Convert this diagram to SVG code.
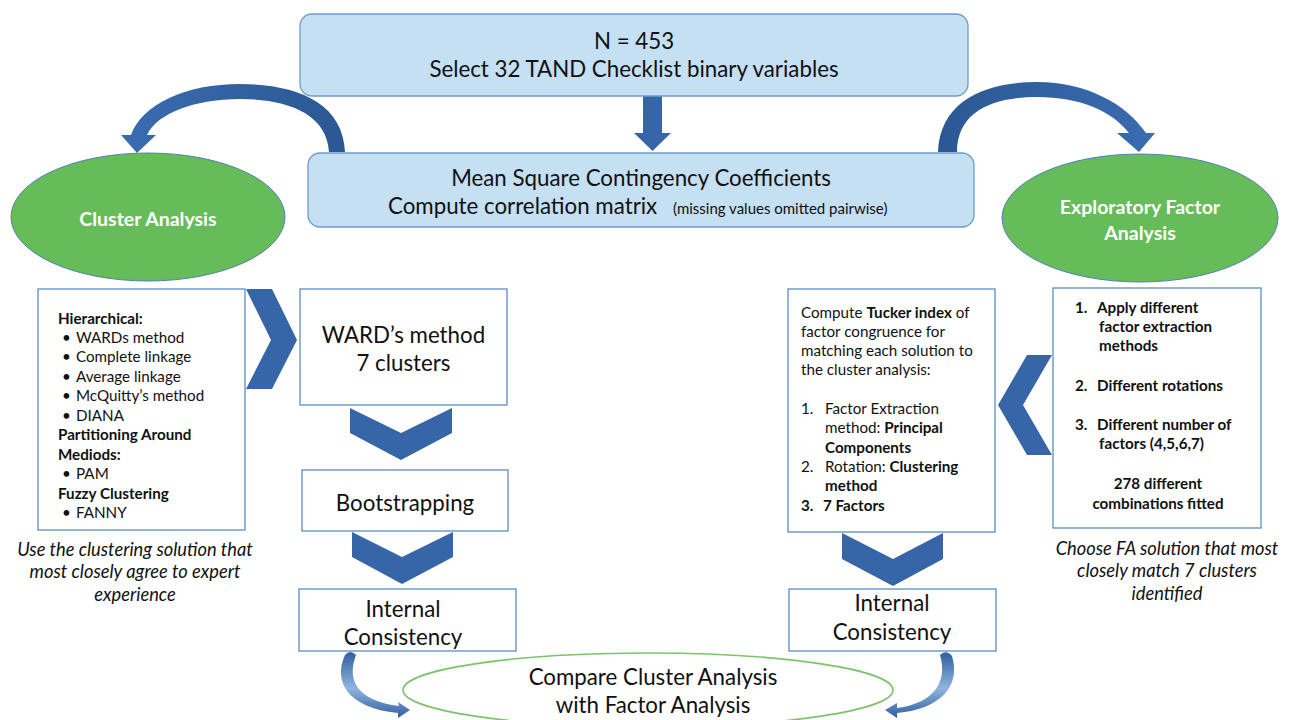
<svg xmlns="http://www.w3.org/2000/svg" width="1296" height="720" viewBox="0 0 1296 720">
  <defs>
    <linearGradient id="arcL" x1="1" y1="0" x2="0" y2="0">
      <stop offset="0" stop-color="#2b5893"/>
      <stop offset="1" stop-color="#3a6cb1"/>
    </linearGradient>
    <linearGradient id="arcR" x1="0" y1="0" x2="1" y2="0">
      <stop offset="0" stop-color="#2b5893"/>
      <stop offset="1" stop-color="#3a6cb1"/>
    </linearGradient>
    <linearGradient id="swoop" x1="0" y1="0" x2="0" y2="1">
      <stop offset="0" stop-color="#2f5f9f"/>
      <stop offset="0.55" stop-color="#8fb4dd"/>
      <stop offset="1" stop-color="#2f5f9f"/>
    </linearGradient>
  </defs>
  <style>
    text { font-family: Lato, "Liberation Sans", Arial, sans-serif; fill: #111; }
    .box { fill: #ffffff; stroke: #5b8ec6; stroke-width: 1.3; }
    .rbox { fill: #c5dff3; stroke: #6e9cca; stroke-width: 1.3; }
    .ell { fill: #66bc58; stroke: #4f81bd; stroke-width: 1; }
    .ring { fill: none; stroke: #7cc46c; stroke-width: 1.6; }
    .chev { fill: #3766a8; }
    .big { font-size: 22.3px; }
    .body { font-size: 15.2px; }
    .b { font-weight: bold; }
    .cap { font-size: 18.3px; font-style: italic; }
    .lab { font-size: 19.5px; font-weight: bold; fill: #ffffff; }
    .mid { text-anchor: middle; }
  </style>

  <rect width="1296" height="720" fill="#ffffff"/>

  <!-- connectors: arrows, curved arrows and chevrons -->
  <g id="connectors">
    <!-- straight down arrow between the two top boxes -->
    <polygon class="chev" points="643,96 662,96 662,133 671,133 652.5,151 634,133 643,133"/>
    <!-- curved arrow to Cluster Analysis -->
    <path fill="url(#arcL)" d="M345,152 C343,102 296,84 240,84 C186,84 142,104 131,135 L121,135 L137,153 L156,135 L147,135 C157,113 196,99 240,99 C284,99 327,112 329,152 Z"/>
    <!-- curved arrow to Exploratory Factor Analysis -->
    <path fill="url(#arcR)" d="M938,152 C940,100 986,82 1037,82 C1087,82 1126,104 1146,133 L1155,133 L1139,152 L1117,133 L1129,133 C1112,111 1080,97 1037,97 C992,97 957,112 957,152 Z"/>
    <!-- chevron: method list to WARD's method -->
    <polygon class="chev" points="246,289 272,289 297,340 272,389 246,389 271,340"/>
    <!-- chevrons down the cluster column -->
    <polygon class="chev" points="350,408 401,433 452,408 452,433 401,460 350,433"/>
    <polygon class="chev" points="352,532 402,557 453,532 453,557 402,584 352,557"/>
    <!-- chevron: factor options to Tucker index -->
    <polygon class="chev" points="1052,355 1027,355 998,405 1027,455 1052,455 1023,405"/>
    <!-- chevron down the factor column -->
    <polygon class="chev" points="842,533 893,559 943,533 943,559 893,586 842,559"/>
    <!-- swoops into the comparison ellipse -->
    <path fill="url(#swoop)" d="M345,655 Q350,649 356,655 C348,676 352,700 399,706 L398,702 L410,710 L398,718 L398,713 C347,708 333,681 345,655 Z"/>
    <path fill="url(#swoop)" d="M940,655 Q946,649 952,656 C961,686 941,709 897,713 L897,718 L885,710 L897,703 L897,708 C934,703 948,682 940,655 Z"/>
  </g>

  <g id="node-input">
    <rect class="rbox" x="300" y="14" width="668" height="82" rx="12"/>
    <text class="big mid" x="634" y="49">N = 453</text>
    <text class="big mid" x="634" y="77">Select 32 TAND Checklist binary variables</text>
  </g>

  <g id="node-correlation">
    <rect class="rbox" x="308" y="153" width="666" height="74" rx="12"/>
    <text class="big mid" x="641" y="186">Mean Square Contingency Coefficients</text>
    <text class="big" x="388" y="214">Compute correlation matrix</text>
    <text x="673" y="214" font-size="15">(missing values omitted pairwise)</text>
  </g>

  <g id="node-cluster-analysis">
    <ellipse class="ell" cx="148" cy="217" rx="137" ry="64"/>
    <text class="lab mid" x="148" y="226">Cluster Analysis</text>
  </g>

  <g id="node-factor-analysis">
    <ellipse class="ell" cx="1140" cy="218" rx="138" ry="64"/>
    <text class="lab mid" x="1140" y="214">Exploratory Factor</text>
    <text class="lab mid" x="1140" y="240">Analysis</text>
  </g>

  <g id="node-cluster-methods">
    <rect class="box" x="38" y="289" width="207" height="241"/>
    <g class="body">
      <text class="b" x="58" y="324">Hierarchical:</text>
      <text x="62" y="343">•</text><text x="76" y="343">WARDs method</text>
      <text x="62" y="362">•</text><text x="76" y="362">Complete linkage</text>
      <text x="62" y="382">•</text><text x="76" y="382">Average linkage</text>
      <text x="62" y="401">•</text><text x="76" y="401">McQuitty’s method</text>
      <text x="62" y="421">•</text><text x="76" y="421">DIANA</text>
      <text class="b" x="58" y="440">Partitioning Around</text>
      <text class="b" x="58" y="460">Mediods:</text>
      <text x="62" y="479">•</text><text x="76" y="479">PAM</text>
      <text class="b" x="58" y="499">Fuzzy Clustering</text>
      <text x="62" y="518">•</text><text x="76" y="518">FANNY</text>
    </g>
    <text class="cap mid" x="135" y="556">Use the clustering solution that</text>
    <text class="cap mid" x="135" y="578">most closely agree to expert</text>
    <text class="cap mid" x="135" y="601">experience</text>
  </g>

  <g id="node-ward">
    <rect class="box" x="300" y="289" width="207" height="116"/>
    <text class="big mid" x="403.5" y="343">WARD’s method</text>
    <text class="big mid" x="403.5" y="371">7 clusters</text>
  </g>

  <g id="node-bootstrapping">
    <rect class="box" x="302" y="470" width="206" height="61"/>
    <text class="big mid" x="405" y="511">Bootstrapping</text>
  </g>

  <g id="node-consistency-cluster">
    <rect class="box" x="299" y="589" width="217" height="62"/>
    <text class="big mid" x="403" y="617">Internal</text>
    <text class="big mid" x="403" y="645">Consistency</text>
  </g>

  <g id="node-tucker">
    <rect class="box" x="788" y="289" width="207" height="243"/>
    <g class="body">
      <text x="801" y="318">Compute <tspan class="b">Tucker index</tspan> of</text>
      <text x="801" y="337">factor congruence for</text>
      <text x="801" y="356">matching each solution to</text>
      <text x="801" y="375">the cluster analysis:</text>
      <text x="801" y="414">1.</text><text x="825" y="414">Factor Extraction</text>
      <text x="825" y="433">method: <tspan class="b">Principal</tspan></text>
      <text class="b" x="825" y="453">Components</text>
      <text x="801" y="472">2.</text><text x="825" y="472">Rotation: <tspan class="b">Clustering</tspan></text>
      <text class="b" x="825" y="491">method</text>
      <text class="b" x="801" y="511">3.</text><text class="b" x="823" y="511">7 Factors</text>
    </g>
  </g>

  <g id="node-factor-options">
    <rect class="box" x="1053" y="288" width="208" height="240"/>
    <g class="body b">
      <text x="1075" y="313">1.</text><text x="1097" y="313">Apply different</text>
      <text x="1099" y="332">factor extraction</text>
      <text x="1099" y="351">methods</text>
      <text x="1075" y="391">2.</text><text x="1097" y="391">Different rotations</text>
      <text x="1075" y="430">3.</text><text x="1097" y="430">Different number of</text>
      <text x="1099" y="449">factors (4,5,6,7)</text>
      <text class="mid" x="1158" y="489">278 different</text>
      <text class="mid" x="1158" y="509">combinations fitted</text>
    </g>
    <text class="cap mid" x="1167" y="555">Choose FA solution that most</text>
    <text class="cap mid" x="1167" y="577">closely match 7 clusters</text>
    <text class="cap mid" x="1167" y="600">identified</text>
  </g>

  <g id="node-consistency-factor">
    <rect class="box" x="789" y="589" width="207" height="62"/>
    <text class="big mid" x="892" y="611">Internal</text>
    <text class="big mid" x="892" y="640">Consistency</text>
  </g>

  <g id="node-compare">
    <ellipse class="ring" cx="648" cy="690" rx="245" ry="37"/>
    <text class="big mid" x="653" y="685">Compare Cluster Analysis</text>
    <text class="big mid" x="653" y="713">with Factor Analysis</text>
  </g>
</svg>
